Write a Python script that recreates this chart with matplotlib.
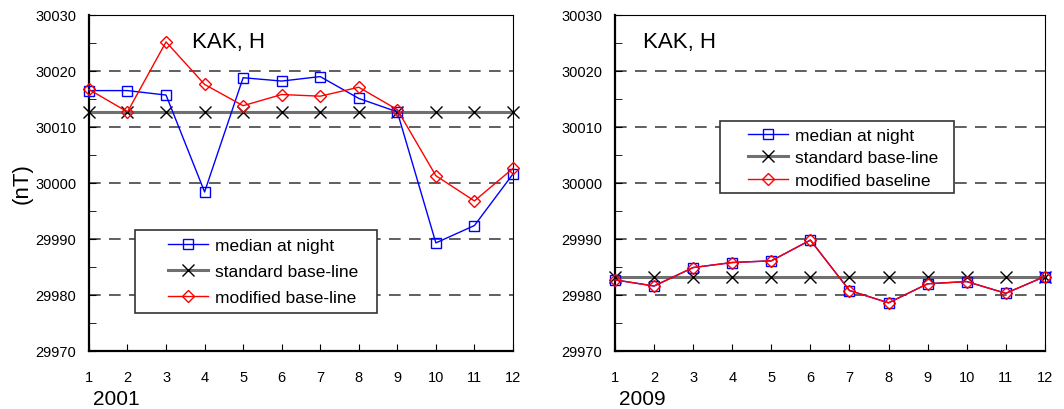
import matplotlib.pyplot as plt
from matplotlib.patches import Rectangle
from matplotlib.ticker import MultipleLocator

plt.rcParams['font.family'] = ['Liberation Sans', 'DejaVu Sans']

# raw data (month, nT)
months = [1, 2, 3, 4, 5, 6, 7, 8, 9, 10, 11, 12]

med2001 = [30016.5, 30016.5, 30015.7, 29998.4, 30018.8, 30018.2, 30019.0, 30015.1, 30012.7, 29989.3, 29992.4, 30001.6]
std2001 = [30012.6] * 12
mod2001 = [30016.7, 30012.7, 30025.2, 30017.6, 30013.8, 30015.8, 30015.5, 30017.1, 30013.1, 30001.3, 29996.8, 30002.6]

med2009 = [29982.7, 29981.6, 29984.9, 29985.8, 29986.1, 29989.8, 29980.8, 29978.6, 29982.0, 29982.4, 29980.3, 29983.3]
std2009 = [29983.3] * 12
mod2009 = [29982.7, 29981.6, 29984.9, 29985.8, 29986.1, 29989.8, 29980.8, 29978.6, 29982.0, 29982.4, 29980.3, 29983.3]

fig = plt.figure(figsize=(10.64, 4.1), dpi=100)
ax1 = fig.add_axes([0.0836, 0.1415, 0.3985, 0.8195])
ax2 = fig.add_axes([0.578, 0.1415, 0.404, 0.8195])


def draw(ax, med, std, mod, modlabel, year, titlex, box, legpos, legspace):
    ax.plot(months, med, color='blue', lw=1, marker='s', ms=7, mfc='none', mec='blue',
            label='median at night', zorder=3, clip_on=False)
    ax.plot(months, std, color='#707070', lw=2.2, marker='x', ms=9, mec='black', mew=1,
            label='standard base-line', zorder=2, clip_on=False)
    ax.plot(months, mod, color='red', lw=1, marker='D', ms=6.5, mfc='none', mec='red',
            label=modlabel, zorder=4, clip_on=False)
    ax.set_xlim(1, 12)
    ax.set_ylim(29970, 30030)
    ax.set_xticks(months)
    ax.yaxis.set_major_locator(MultipleLocator(10))
    ax.yaxis.set_minor_locator(MultipleLocator(5))
    ax.yaxis.set_major_formatter(plt.FormatStrFormatter('%d'))
    ax.tick_params(axis='x', direction='in', length=5, pad=14, labelsize=10.5)
    ax.tick_params(axis='y', which='both', direction='in', length=5, pad=9, labelsize=10.5)
    for v in [29980, 29990, 30000, 30010, 30020]:
        ax.axhline(v, color='#444444', lw=1.2, dashes=(7, 5), zorder=1)
    ax.spines['left'].set_linewidth(1.6)
    ax.spines['bottom'].set_linewidth(1.6)
    ax.text(titlex, 0.952, 'KAK, H', transform=ax.transAxes, fontsize=16, va='top')
    ax.text(0.01, -0.158, year, transform=ax.transAxes, fontsize=15, va='baseline')
    # legend frame is wider than the entries, so draw it as its own box
    ax.add_patch(Rectangle((box[0], box[1]), box[2], box[3], transform=ax.transAxes,
                           facecolor='white', edgecolor='#333333', lw=1.2, zorder=6))
    leg = ax.legend(loc='upper left', bbox_to_anchor=legpos, borderaxespad=0, fontsize=12.5,
                    frameon=False, handlelength=2.3, labelspacing=legspace, borderpad=0,
                    handletextpad=0.4)
    leg.set_zorder(7)


draw(ax1, med2001, std2001, mod2001, 'modified base-line', '2001', 0.243,
     (0.1085, 0.113, 0.5705, 0.247), (0.186, 0.337), 0.64)
draw(ax2, med2009, std2009, mod2009, 'modified baseline', '2009', 0.065,
     (0.244, 0.469, 0.544, 0.216), (0.309, 0.665), 0.42)
ax1.set_ylabel('(nT)', fontsize=16, labelpad=2)

plt.savefig('out.png')
